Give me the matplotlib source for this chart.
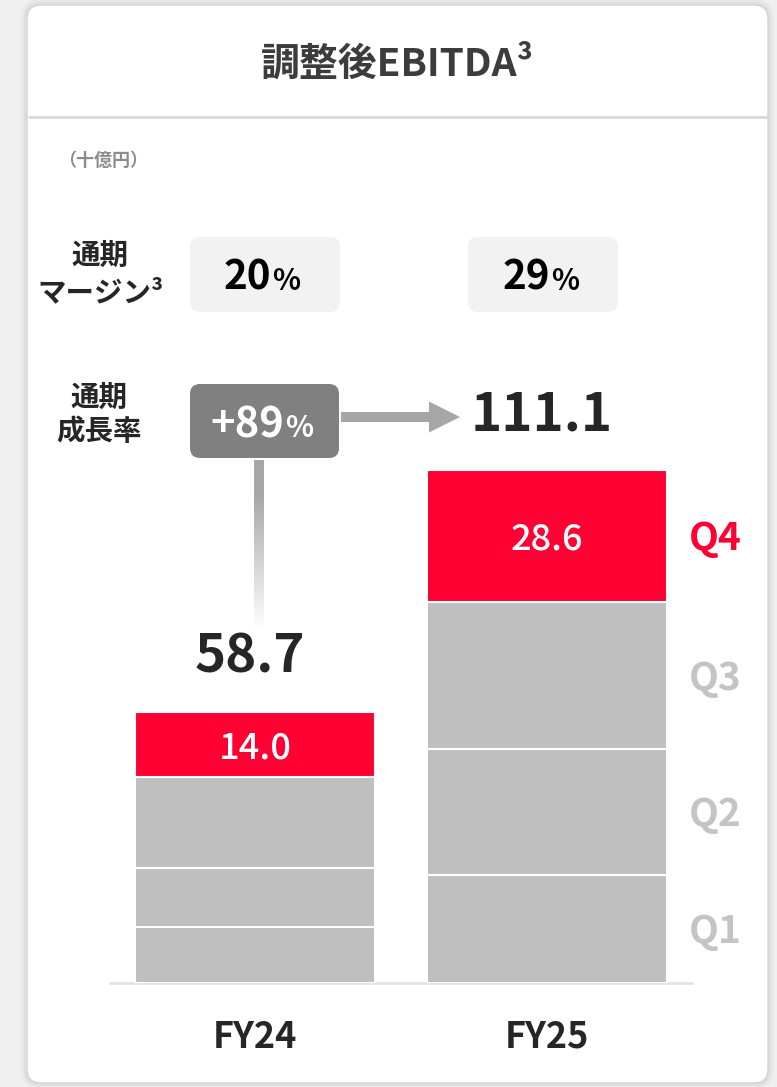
import numpy as np
import matplotlib
matplotlib.use("Agg")
import matplotlib.pyplot as plt
from matplotlib.patches import FancyBboxPatch, FancyArrow

plt.rcParams['font.family'] = ['Noto Sans CJK JP', 'DejaVu Sans']

# Data (十億円)
years = ["FY24", "FY25"]
quarters = ["Q1", "Q2", "Q3", "Q4"]
q1 = [12.1, 23.4]
q2 = [12.8, 27.3]
q3 = [19.8, 31.8]
q4 = [14.0, 28.6]
totals = [58.7, 111.1]
margins = ["20", "29"]
growth = "+89"

RED = "#ff0033"
BAR_GREY = "#bfbfbf"
Q_GREY = "#c4c4c4"
DARK = "#262626"

W, H = 777, 1087
fig = plt.figure(figsize=(W / 100, H / 100), dpi=100)
fig.patch.set_facecolor("#f0f0f0")

# background / decoration axes in pixel coordinates
bg = fig.add_axes([0, 0, 1, 1], zorder=0)
bg.set_xlim(0, W)
bg.set_ylim(H, 0)
bg.axis("off")

# soft shadow + card
for pad, a in [(6, 0.03), (3, 0.04)]:
    bg.add_patch(FancyBboxPatch((27 - pad, 5 - pad), 741 + 2 * pad, 1078 + 2 * pad,
                                boxstyle="round,pad=0,rounding_size=%d" % (14 + pad),
                                facecolor="black", edgecolor="none", alpha=a))
bg.add_patch(FancyBboxPatch((27, 5), 741, 1078, boxstyle="round,pad=0,rounding_size=14",
                            facecolor="white", edgecolor="#d4d4d4", linewidth=1.0))
bg.plot([27.5, 767.5], [117, 117], color="#d9d9d9", linewidth=2, solid_capstyle="butt")

# title
bg.text(397, 64, "調整後EBITDA³", ha="center", va="center", fontsize=28,
        fontweight="bold", color="#3c3c3c")
bg.text(103, 160, "（十億円）", ha="center", va="center", fontsize=13,
        fontweight="bold", color="#8c8c8c")

# row labels
lab = dict(ha="center", va="center", fontsize=20.5, fontweight="bold", color=DARK)
bg.text(100, 256, "通期", **lab)
bg.text(100, 293, "マージン³", **lab)
bg.text(99, 398, "通期", **lab)
bg.text(99, 432, "成長率", **lab)

# margin boxes
for x0, split, m in zip([190, 468], [271, 550], margins):
    bg.add_patch(FancyBboxPatch((x0, 237), 150, 75, boxstyle="round,pad=0,rounding_size=10",
                                facecolor="#f2f2f2", edgecolor="none"))
    bg.text(split, 290, m, ha="right", va="baseline", fontsize=29, fontweight="bold", color="black")
    bg.text(split + 1, 290, "%", ha="left", va="baseline", fontsize=21, fontweight="bold", color="black")

# growth box
bg.add_patch(FancyBboxPatch((190, 384), 149, 74, boxstyle="round,pad=0,rounding_size=10",
                            facecolor="#808080", edgecolor="none"))
bg.text(284, 437, growth, ha="right", va="baseline", fontsize=30, fontweight="bold", color="white")
bg.text(285, 437, "%", ha="left", va="baseline", fontsize=21, fontweight="bold", color="white")

# arrow to FY25 total
bg.add_patch(FancyArrow(341, 417, 119, 0, width=10, head_width=31, head_length=31,
                        length_includes_head=True, color="#a6a6a6", linewidth=0))

# fading connector down to FY24 total
n = 200
alpha = np.clip(np.linspace(1.25, -0.05, n), 0, 1)
grad = np.zeros((n, 1, 4))
grad[..., 0] = grad[..., 1] = grad[..., 2] = 0xa6 / 255
grad[:, 0, 3] = alpha
bg.imshow(grad, extent=[254, 264, 637, 460], aspect="auto", interpolation="bilinear", zorder=2)
bg.set_xlim(0, W)
bg.set_ylim(H, 0)

# bar axes
px_per_unit = 513 / 111.1
ax_left, ax_right, ax_bottom, ax_top = 110, 692, 983, 440
ax = fig.add_axes([ax_left / W, (H - ax_bottom) / H, (ax_right - ax_left) / W,
                   (ax_bottom - ax_top) / H], zorder=1)
ax.patch.set_alpha(0)
ax.set_xlim((ax_left - 255) / 292, (ax_right - 255) / 292)
ax.set_ylim(0, (ax_bottom - ax_top) / px_per_unit)
ax.axis("off")

x = np.arange(len(years))
bw = 240 / 292
bottom = np.zeros(len(years))
series = [q1, q2, q3, q4]
colors = [BAR_GREY, BAR_GREY, BAR_GREY, RED]
for qname, vals, c in zip(quarters, series, colors):
    vals = np.array(vals)
    ax.bar(x, vals, bw, bottom=bottom, color=c, edgecolor="white", linewidth=1.5)
    mid = bottom[-1] + vals[-1] / 2
    ax.annotate(qname, (x[-1], mid), xytext=(121, -10.4), textcoords="offset points",
                ha="center", va="baseline", fontsize=28, fontweight="bold",
                color=RED if qname == "Q4" else Q_GREY, annotation_clip=False)
    if qname == "Q4":
        for xi, b, v in zip(x, bottom, vals):
            ax.annotate(f"{v:.1f}", (xi, b + v / 2), xytext=(0, -10), textcoords="offset points",
                        ha="center", va="baseline", fontsize=26, color="white",
                        fontweight="medium")
    bottom = bottom + vals

ax.axhline(0, xmin=0, xmax=1, color="#e4e4e4", linewidth=2, clip_on=False, zorder=0)

for xi, t in zip(x, totals):
    ax.annotate(f"{t:.1f}", (xi, t), xytext=(-4, 28.5), textcoords="offset points",
                ha="center", va="baseline", fontsize=38, fontweight="bold", color=DARK,
                annotation_clip=False)

for xi, yr in zip(x, years):
    ax.annotate(yr, (xi, 0), xytext=(0, -46.8), textcoords="offset points",
                ha="center", va="baseline", fontsize=26, fontweight="bold", color=DARK,
                annotation_clip=False)

fig.savefig("out.png", dpi=100, facecolor=fig.get_facecolor())
